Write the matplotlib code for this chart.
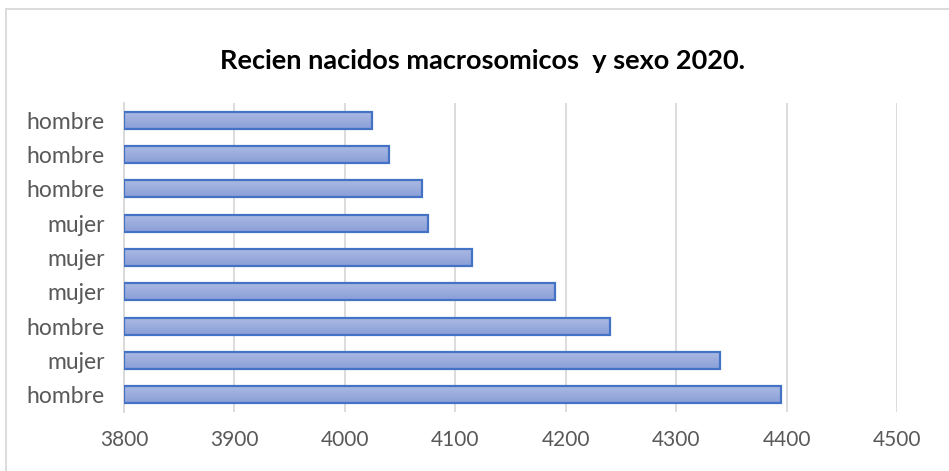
import numpy as np
import matplotlib.pyplot as plt
from matplotlib.patches import Rectangle
from matplotlib.colors import LinearSegmentedColormap

labels = ["hombre", "mujer", "hombre", "mujer", "mujer", "mujer", "hombre", "hombre", "hombre"]
values = [4395, 4340, 4240, 4190, 4115, 4075, 4070, 4040, 4025]
xticks = [3800, 3900, 4000, 4100, 4200, 4300, 4400, 4500]
title = "Recien nacidos macrosomicos  y sexo 2020."

plt.rcParams['font.family'] = ['Lato', 'DejaVu Sans']

W, H = 949, 471
fig = plt.figure(figsize=(W / 100, H / 100), dpi=100)
ax = fig.add_axes([124 / W, 1 - 412 / H, (897 - 124) / W, (412 - 103) / H])

y = np.arange(len(values))
bars = ax.barh(y, np.array(values) - 3800, left=3800, height=0.5,
               color='none', edgecolor='#4472c4', linewidth=1.6, zorder=3)

# vertical gradient inside each bar
grad = np.linspace(0, 1, 64).reshape(-1, 1)
cmap = LinearSegmentedColormap.from_list('g', ['#8a9fd8', '#adbbe3'])
for b in bars:
    x0, y0 = b.get_x(), b.get_y()
    im = ax.imshow(grad, cmap=cmap, aspect='auto', origin='lower',
                   extent=[x0, x0 + b.get_width(), y0, y0 + b.get_height()], zorder=2)
    im.set_clip_path(b)

ax.set_xlim(3800, 4500)
ax.set_ylim(-0.5, len(values) - 0.5)
ax.set_xticks(xticks)
ax.set_yticks(y)
ax.set_yticklabels(labels)
ax.tick_params(axis='both', length=0, labelsize=15, labelcolor='#595959')
ax.tick_params(axis='y', labelsize=16.5, pad=14)
ax.tick_params(axis='x', pad=13)
ax.grid(axis='x', color='#d9d9d9', linewidth=1.3, zorder=0)
for s in ['top', 'right', 'bottom']:
    ax.spines[s].set_visible(False)
ax.spines['left'].set_color('#d9d9d9')
ax.spines['left'].set_linewidth(1.3)

fig.text(483 / W, 1 - 61 / H, title, ha='center', va='center',
         fontsize=19.5, fontweight='bold', color='black')

fig.patches.append(Rectangle((6 / W, -0.1), 1.1, 1 - 9 / H + 0.1, transform=fig.transFigure,
                             fill=False, edgecolor='#d9d9d9', linewidth=1.3))

fig.savefig('out.png', dpi=100)
